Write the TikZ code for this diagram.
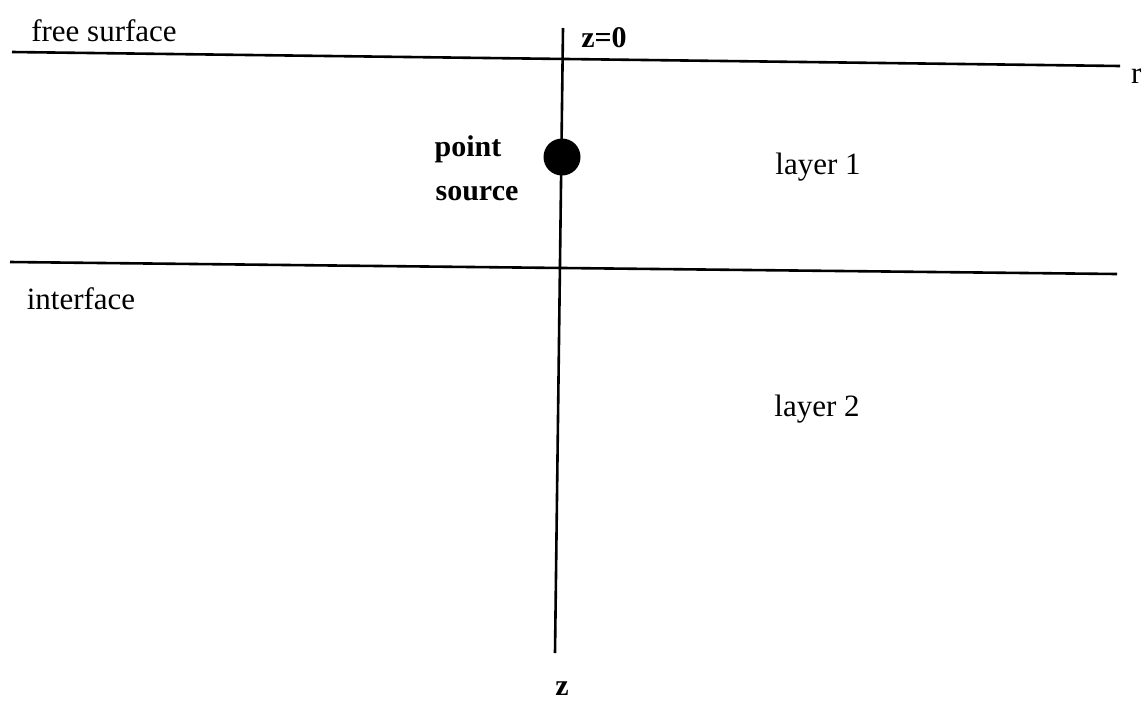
\documentclass[tikz,border=0pt]{standalone}
\usepackage{fontspec}
\setmainfont{Liberation Serif}
\begin{document}
\begin{tikzpicture}[x=1pt,y=-1pt,
  line/.style={line width=2.6pt},
  lbl/.style={font=\fontsize{31}{35}\selectfont, inner sep=0pt},
  blbl/.style={font=\fontsize{30}{34}\selectfont\bfseries, inner sep=0pt}]
\useasboundingbox (0,0) rectangle (1146,705);
% lines
\coordinate (fsL) at (12,52);
\coordinate (fsR) at (1120,66);
\coordinate (ifL) at (10,262);
\coordinate (ifR) at (1117,274);
\coordinate (zT) at (563,28);
\coordinate (zB) at (555,653);
\draw[line] (fsL) -- (fsR);
\draw[line] (ifL) -- (ifR);
\draw[line] (zT) -- (zB);
\node[circle, fill=black, minimum size=37pt, inner sep=0pt] (src) at (562,157) {};
% labels
\node[lbl] (free) at (104,31) {free surface};
\node[blbl] (z0) at (604,38) {z=0};
\node[lbl, anchor=west] (r) at (1131,76) {r};
\node[blbl] (point) at (468,149) {point};
\node[blbl] (source) at (477,194) {source};
\node[lbl] (l1) at (818,167) {layer 1};
\node[lbl] (intf) at (81,299) {interface};
\node[lbl] (l2) at (817,409) {layer 2};
\node[blbl] (z) at (562,689) {z};
\end{tikzpicture}
\end{document}
